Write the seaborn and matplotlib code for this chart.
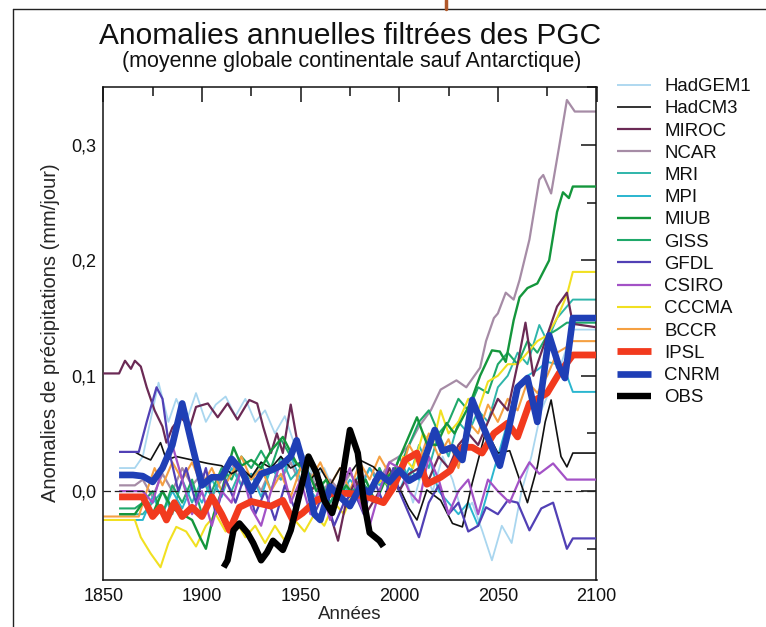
import matplotlib
matplotlib.use("Agg")
import matplotlib.pyplot as plt
from matplotlib.lines import Line2D
from matplotlib.ticker import MultipleLocator, FuncFormatter
import seaborn as sns

# ---------------- data ----------------
hadgem1_x = [1858, 1866, 1870, 1875, 1878, 1883, 1887, 1892, 1897, 1902, 1907, 1912, 1917, 1922, 1927, 1932, 1937,
             1942, 1947, 1952, 1957, 1962, 1967, 1972, 1977, 1982, 1987, 1992, 1997, 2002, 2007, 2012, 2017, 2022,
             2027, 2032, 2037, 2042, 2047, 2052, 2057, 2062, 2067, 2072, 2077, 2082, 2088, 2100]
hadgem1_y = [0.02, 0.02, 0.03, 0.07, 0.094, 0.06, 0.08, 0.06, 0.085, 0.06, 0.075, 0.082, 0.065, 0.08, 0.06, 0.07, 0.05,
             0.065, 0.04, 0.03, 0.01, 0.02, 0.0, 0.015, -0.005, 0.01, 0.0, 0.015, 0.0, 0.02, -0.01, 0.02, 0.0, 0.03,
             0.01, -0.02, -0.01, -0.034, -0.06, -0.03, -0.045, 0.0, 0.03, 0.07, 0.09, 0.11, 0.14, 0.14]

hadcm3_x = [1858, 1866, 1870, 1874, 1879, 1882, 1887, 1895, 1903, 1910, 1915, 1920, 1925, 1930, 1935, 1940, 1945,
            1950, 1955, 1960, 1965, 1970, 1975, 1980, 1987, 1993, 2000, 2005, 2009, 2014, 2021, 2027, 2032, 2037,
            2044, 2050, 2056, 2060, 2065, 2070, 2074, 2077, 2082, 2085, 2088, 2100]
hadcm3_y = [0.034, 0.034, 0.03, 0.027, 0.042, 0.027, 0.03, 0.027, 0.024, 0.022, 0.015, 0.02, 0.012, 0.025, 0.02,
            0.03, 0.02, 0.025, 0.01, 0.02, 0.005, 0.02, 0.015, 0.027, 0.021, 0.01, 0.003, -0.015, -0.025, 0.001,
            -0.008, -0.028, -0.031, 0.007, 0.053, 0.033, 0.035, 0.015, -0.01, 0.021, 0.06, 0.079, 0.03, 0.021,
            0.033, 0.033]

miroc_x = [1850, 1858, 1861, 1864, 1866, 1869, 1872, 1876, 1880, 1882, 1885, 1889, 1894, 1897, 1903, 1908, 1913,
           1918, 1924, 1928, 1931, 1935, 1938, 1941, 1945, 1950, 1955, 1960, 1965, 1969, 1973, 1978, 1983, 1990,
           1995, 2000, 2005, 2010, 2015, 2020, 2025, 2030, 2035, 2040, 2045, 2050, 2055, 2060, 2064, 2068, 2072,
           2076, 2080, 2085, 2088, 2100]
miroc_y = [0.102, 0.102, 0.113, 0.106, 0.113, 0.108, 0.09, 0.07, 0.056, 0.042, 0.055, 0.064, 0.056, 0.073, 0.076,
           0.064, 0.076, 0.062, 0.079, 0.076, 0.056, 0.033, 0.05, 0.033, 0.075, 0.027, 0.0, 0.01, -0.02, -0.043,
           -0.01, 0.01, -0.02, 0.0, 0.02, 0.0, 0.015, 0.02, 0.01, 0.03, 0.02, 0.04, 0.05, 0.04, 0.06, 0.08, 0.07,
           0.11, 0.146, 0.1, 0.12, 0.14, 0.16, 0.172, 0.145, 0.142]

ncar_x = [1858, 1866, 1870, 1875, 1880, 1885, 1890, 1895, 1900, 1905, 1910, 1915, 1920, 1925, 1930, 1935, 1940,
          1945, 1950, 1955, 1960, 1965, 1970, 1975, 1980, 1985, 1990, 1995, 2000, 2005, 2010, 2016, 2021, 2029,
          2034, 2041, 2044, 2048, 2050, 2054, 2058, 2061, 2066, 2071, 2073, 2077, 2081, 2085, 2089, 2100]
ncar_y = [0.005, 0.005, 0.01, -0.005, 0.015, 0.0, 0.02, 0.005, 0.015, -0.005, 0.01, 0.025, 0.005, 0.015, 0.0,
          0.02, 0.01, 0.025, 0.005, 0.015, -0.005, 0.01, 0.0, 0.015, 0.005, 0.02, 0.01, 0.025, 0.03, 0.04, 0.056,
          0.07, 0.088, 0.096, 0.09, 0.107, 0.13, 0.15, 0.154, 0.172, 0.166, 0.183, 0.218, 0.27, 0.274, 0.258,
          0.298, 0.339, 0.329, 0.329]

mri_x = [1858, 1870, 1875, 1880, 1885, 1890, 1895, 1900, 1905, 1910, 1915, 1920, 1925, 1930, 1935, 1940, 1945,
         1950, 1955, 1960, 1965, 1970, 1975, 1980, 1985, 1990, 1995, 2000, 2005, 2010, 2015, 2020, 2025, 2030,
         2035, 2040, 2045, 2050, 2055, 2060, 2065, 2068, 2071, 2075, 2080, 2085, 2088, 2100]
mri_y = [-0.02, -0.02, -0.01, 0.0, -0.02, 0.01, -0.01, 0.01, -0.005, 0.015, 0.0, 0.02, 0.01, 0.025, 0.0, 0.03,
         0.01, 0.02, 0.0, 0.01, -0.01, 0.005, 0.0, 0.015, -0.005, 0.02, 0.0, 0.03, 0.01, 0.04, 0.02, 0.05, 0.03,
         0.06, 0.05, 0.07, 0.06, 0.09, 0.1, 0.12, 0.11, 0.127, 0.144, 0.13, 0.15, 0.16, 0.166, 0.166]

mpi_x = [1850, 1870, 1875, 1880, 1885, 1890, 1895, 1900, 1905, 1910, 1915, 1920, 1925, 1930, 1935, 1940, 1945,
         1950, 1955, 1960, 1965, 1970, 1975, 1980, 1985, 1990, 1995, 2000, 2005, 2010, 2015, 2020, 2025, 2030,
         2035, 2040, 2045, 2050, 2055, 2060, 2065, 2070, 2075, 2080, 2085, 2088, 2100]
mpi_y = [-0.025, -0.025, -0.005, -0.02, 0.0, -0.015, 0.005, -0.01, 0.01, -0.005, 0.02, 0.005, 0.015, -0.005,
         0.02, 0.01, 0.03, 0.01, 0.0, -0.01, 0.005, -0.005, 0.01, 0.0, 0.02, 0.005, 0.015, 0.0, 0.02, 0.01, 0.03,
         0.0, -0.01, -0.02, -0.01, -0.03, 0.0, 0.03, 0.06, 0.09, 0.1, 0.105, 0.112, 0.11, 0.1, 0.086, 0.086]

miub_x = [1858, 1866, 1870, 1875, 1880, 1885, 1890, 1895, 1899, 1902, 1906, 1910, 1916, 1920, 1925, 1930, 1935,
          1941, 1948, 1953, 1958, 1963, 1968, 1973, 1978, 1983, 1988, 1993, 1998, 2003, 2009, 2014, 2019, 2024,
          2028, 2036, 2041, 2047, 2051, 2054, 2058, 2061, 2065, 2070, 2076, 2080, 2083, 2086, 2088, 2100]
miub_y = [-0.02, -0.02, -0.01, -0.02, 0.0, -0.015, -0.02, -0.025, -0.04, -0.05, -0.02, 0.0, 0.038, 0.022, 0.027,
          0.02, 0.035, 0.047, 0.024, 0.02, 0.0, 0.01, -0.01, 0.005, -0.005, 0.01, -0.01, 0.01, 0.02, 0.04, 0.064,
          0.041, 0.04, 0.059, 0.05, 0.076, 0.1, 0.122, 0.121, 0.112, 0.148, 0.168, 0.176, 0.18, 0.2, 0.242, 0.259,
          0.254, 0.264, 0.264]

giss_x = [1858, 1866, 1870, 1875, 1880, 1885, 1890, 1895, 1900, 1905, 1910, 1915, 1920, 1925, 1930, 1935, 1940,
          1945, 1950, 1955, 1960, 1965, 1970, 1975, 1980, 1985, 1990, 1995, 2000, 2005, 2010, 2015, 2020, 2025,
          2030, 2035, 2040, 2045, 2050, 2055, 2060, 2065, 2070, 2075, 2080, 2085, 2088, 2100]
giss_y = [-0.015, -0.015, -0.01, 0.0, -0.02, 0.005, -0.01, 0.01, -0.02, 0.0, 0.02, 0.01, 0.03, 0.02, 0.035,
          0.02, 0.045, 0.03, 0.02, 0.0, 0.01, -0.01, 0.005, -0.005, 0.01, 0.0, 0.02, 0.0, 0.02, 0.04, 0.06, 0.07,
          0.05, 0.06, 0.08, 0.07, 0.09, 0.085, 0.11, 0.12, 0.11, 0.13, 0.12, 0.135, 0.14, 0.146, 0.146, 0.146]

gfdl_x = [1858, 1868, 1872, 1877, 1880, 1884, 1888, 1892, 1897, 1902, 1907, 1912, 1917, 1922, 1927, 1932, 1937,
          1942, 1947, 1952, 1957, 1962, 1967, 1972, 1977, 1982, 1987, 1992, 1997, 2000, 2005, 2010, 2015, 2020,
          2025, 2030, 2035, 2040, 2044, 2050, 2055, 2060, 2066, 2072, 2078, 2085, 2088, 2100]
gfdl_y = [0.034, 0.034, 0.06, 0.09, 0.08, 0.03, 0.0, 0.02, -0.01, 0.02, -0.02, 0.01, -0.01, 0.015, -0.02, 0.0,
          -0.025, 0.005, -0.015, 0.01, -0.02, 0.0, -0.03, -0.01, 0.0, -0.02, 0.01, -0.01, 0.02, 0.0, -0.02, -0.04,
          -0.01, 0.005, -0.02, -0.01, -0.035, -0.03, -0.014, -0.02, -0.008, -0.01, -0.034, -0.015, -0.01, -0.05,
          -0.041, -0.041]

csiro_x = [1858, 1870, 1875, 1880, 1885, 1890, 1895, 1900, 1905, 1910, 1915, 1920, 1925, 1930, 1935, 1940, 1945,
           1950, 1955, 1960, 1965, 1970, 1975, 1980, 1985, 1990, 1995, 2000, 2005, 2010, 2015, 2020, 2025, 2030,
           2035, 2040, 2045, 2050, 2056, 2061, 2066, 2071, 2078, 2085, 2088, 2100]
csiro_y = [0.0, 0.0, -0.01, 0.02, 0.04, 0.01, -0.02, 0.0, -0.03, 0.0, -0.01, 0.02, -0.015, -0.03, 0.0, 0.025,
           -0.01, 0.01, -0.02, 0.005, -0.025, 0.0, 0.02, -0.01, -0.03, 0.0, 0.025, 0.02, 0.0, -0.01, 0.03, 0.01,
           -0.02, 0.0, 0.01, -0.02, 0.01, 0.0, -0.01, 0.01, 0.025, 0.015, 0.024, 0.01, 0.01, 0.01]

cccma_x = [1850, 1866, 1869, 1874, 1879, 1883, 1887, 1892, 1897, 1902, 1907, 1912, 1917, 1922, 1927, 1932, 1937,
           1942, 1947, 1952, 1957, 1962, 1967, 1972, 1977, 1982, 1987, 1992, 1997, 2002, 2007, 2012, 2017, 2021,
           2025, 2030, 2035, 2040, 2045, 2050, 2055, 2060, 2065, 2070, 2075, 2080, 2085, 2088, 2100]
cccma_y = [-0.025, -0.025, -0.04, -0.054, -0.066, -0.045, -0.031, -0.035, -0.048, -0.03, -0.02, -0.035, -0.025,
           -0.04, -0.03, -0.045, -0.03, -0.043, -0.025, -0.035, -0.02, -0.03, -0.01, -0.02, 0.0, -0.015, 0.005,
           0.01, 0.0, 0.03, 0.02, 0.05, 0.04, 0.07, 0.05, 0.06, 0.08, 0.07, 0.095, 0.1, 0.11, 0.11, 0.12, 0.13,
           0.135, 0.15, 0.17, 0.19, 0.19]

bccr_x = [1850, 1868, 1872, 1876, 1880, 1885, 1890, 1895, 1900, 1905, 1910, 1915, 1920, 1925, 1930, 1935, 1940,
          1945, 1950, 1955, 1960, 1965, 1970, 1975, 1980, 1985, 1990, 1995, 2000, 2005, 2010, 2015, 2020, 2025,
          2030, 2035, 2040, 2045, 2050, 2055, 2060, 2065, 2070, 2075, 2080, 2085, 2088, 2100]
bccr_y = [-0.022, -0.022, 0.0, 0.02, 0.005, 0.025, 0.01, 0.025, 0.005, 0.02, 0.0, 0.015, 0.03, 0.01, 0.02, 0.0,
          0.015, -0.005, 0.02, 0.01, 0.025, 0.005, 0.02, 0.0, 0.025, 0.01, 0.03, 0.015, 0.01, 0.04, 0.025, 0.05,
          0.03, 0.045, 0.02, 0.06, 0.05, 0.075, 0.06, 0.08, 0.07, 0.095, 0.085, 0.1, 0.12, 0.125, 0.13, 0.13]

ipsl_x = [1858, 1870, 1875, 1879, 1882, 1886, 1890, 1895, 1900, 1905, 1910, 1914, 1919, 1925, 1935, 1941, 1946,
          1951, 1958, 1966, 1975, 1984, 1992, 1997, 2003, 2009, 2014, 2021, 2026, 2032, 2037, 2042, 2048, 2055,
          2060, 2066, 2075, 2081, 2088, 2100]
ipsl_y = [-0.005, -0.005, -0.022, -0.014, -0.025, -0.01, -0.022, -0.014, -0.022, -0.005, -0.02, -0.034, -0.014,
          -0.009, -0.013, -0.008, -0.025, -0.019, -0.008, -0.002, -0.002, -0.005, -0.01, 0.003, 0.027, 0.033,
          0.006, 0.012, 0.018, 0.038, 0.038, 0.033, 0.05, 0.059, 0.047, 0.076, 0.085, 0.102, 0.118, 0.118]

cnrm_x = [1858, 1865, 1870, 1875, 1880, 1885, 1890, 1895, 1900, 1905, 1910, 1915, 1920, 1925, 1930, 1935, 1940,
          1945, 1948, 1952, 1957, 1960, 1965, 1970, 1975, 1980, 1985, 1990, 1995, 2000, 2005, 2010, 2018, 2022,
          2027, 2032, 2037, 2041, 2046, 2051, 2055, 2060, 2065, 2070, 2076, 2081, 2084, 2088, 2100]
cnrm_y = [0.014, 0.014, 0.013, 0.008, 0.02, 0.04, 0.076, 0.04, 0.005, 0.012, 0.012, 0.028, 0.018, 0.0, 0.015,
          0.018, 0.022, 0.03, 0.044, 0.02, -0.02, -0.025, 0.004, -0.005, -0.013, 0.003, -0.001, 0.015, 0.008,
          0.018, 0.009, 0.014, 0.053, 0.035, 0.038, 0.027, 0.079, 0.062, 0.042, 0.022, 0.05, 0.09, 0.098, 0.06,
          0.135, 0.108, 0.098, 0.15, 0.15]

obs_x = [1911, 1913, 1916, 1919, 1923, 1926, 1930, 1933, 1936, 1941, 1945, 1950, 1954, 1958, 1962, 1966, 1971,
         1975, 1979, 1982, 1985, 1990, 1992]
obs_y = [-0.066, -0.06, -0.034, -0.028, -0.036, -0.045, -0.06, -0.053, -0.043, -0.051, -0.034, 0.001, 0.03,
         0.016, -0.008, -0.019, 0.01, 0.053, 0.033, -0.008, -0.036, -0.043, -0.048]

names = ["HadGEM1", "HadCM3", "MIROC", "NCAR", "MRI", "MPI", "MIUB", "GISS", "GFDL", "CSIRO", "CCCMA", "BCCR",
         "IPSL", "CNRM", "OBS"]
xs = [hadgem1_x, hadcm3_x, miroc_x, ncar_x, mri_x, mpi_x, miub_x, giss_x, gfdl_x, csiro_x, cccma_x, bccr_x,
      ipsl_x, cnrm_x, obs_x]
ys = [hadgem1_y, hadcm3_y, miroc_y, ncar_y, mri_y, mpi_y, miub_y, giss_y, gfdl_y, csiro_y, cccma_y, bccr_y,
      ipsl_y, cnrm_y, obs_y]

# ---------------- styles ----------------
colors = ["#a9d6ef", "#111111", "#6b2a55", "#a68ca6", "#2fb5aa", "#2ab6cf", "#14963c", "#1fa86a", "#5140b5",
          "#a352c6", "#f1e021", "#f5a042", "#f23a1e", "#1f3fb6", "#000000"]
widths = [1.3, 1.2, 1.6, 1.6, 1.4, 1.4, 1.7, 1.5, 1.6, 1.6, 1.5, 1.5, 4.9, 4.8, 4.6]
zorders = [2, 3, 3, 2, 2, 2, 3, 2, 3, 3, 2, 2, 5, 6, 7]

sns.set_style("white")
plt.rcParams["font.family"] = ["Liberation Sans", "DejaVu Sans"]

fig = plt.figure(figsize=(7.66, 6.27), dpi=100)
ax = fig.add_axes([103.3 / 766, 1 - 579.5 / 627, (596.5 - 103.3) / 766, (579.5 - 86.5) / 627])

for n, x, y, c, w, z in zip(names, xs, ys, colors, widths, zorders):
    sns.lineplot(x=x, y=y, ax=ax, color=c, linewidth=w, label=n, zorder=z, sort=False,
                 estimator=None, solid_joinstyle="round", solid_capstyle="butt")

ax.axhline(0, color="#222222", lw=0.9, ls=(0, (6, 3)), zorder=4)

ax.set_xlim(1850, 2100)
ax.set_ylim(-0.0766, 0.3507)
ax.xaxis.set_major_locator(MultipleLocator(50))
ax.xaxis.set_minor_locator(MultipleLocator(25))
ax.yaxis.set_major_locator(MultipleLocator(0.1))
ax.yaxis.set_minor_locator(MultipleLocator(0.05))
ax.yaxis.set_major_formatter(FuncFormatter(lambda v, p: f"{v:.1f}".replace(".", ",").replace("-0,0", "0,0")))
ax.tick_params(which="both", direction="in", top=True, right=True, width=1.1, colors="#111111",
               labelsize=13)
ax.tick_params(which="major", length=11)
ax.tick_params(which="minor", length=6.5)
ax.tick_params(axis="x", which="major", pad=6)
ax.tick_params(axis="y", which="major", pad=5)
for s in ax.spines.values():
    s.set_linewidth(1.1)
    s.set_color("#111111")

ax.set_xlabel("Années", fontsize=13.5, labelpad=1)
ax.set_ylabel("Anomalies de précipitations (mm/jour)", fontsize=14.5, labelpad=8)

fig.text(350 / 766, 1 - 36 / 627, "Anomalies annuelles filtrées des PGC", ha="center", va="center",
         fontsize=21.5, color="#111111")
fig.text(352 / 766, 1 - 62 / 627, "(moyenne globale continentale sauf Antarctique)", ha="center",
         va="center", fontsize=15.5, color="#111111")

leg = ax.legend(loc="upper left", bbox_to_anchor=(617 / 766, 1 - 78 / 627), bbox_transform=fig.transFigure,
                frameon=False, fontsize=13.4, handlelength=1.8, handletextpad=0.75, labelspacing=0.28,
                borderpad=0, borderaxespad=0)
for t in leg.get_texts():
    t.set_color("#111111")

# page frame lines as in the scanned figure
fig.add_artist(Line2D([13 / 766, 13 / 766], [0, 1 - 9 / 627], transform=fig.transFigure, color="#222222", lw=1))
fig.add_artist(Line2D([13 / 766, 1], [1 - 9 / 627, 1 - 9 / 627], transform=fig.transFigure, color="#222222", lw=1))
fig.add_artist(Line2D([446 / 766, 446 / 766], [1 - 9 / 627, 1], transform=fig.transFigure, color="#b0582a", lw=2.5))

fig.savefig("out.png", dpi=100)
